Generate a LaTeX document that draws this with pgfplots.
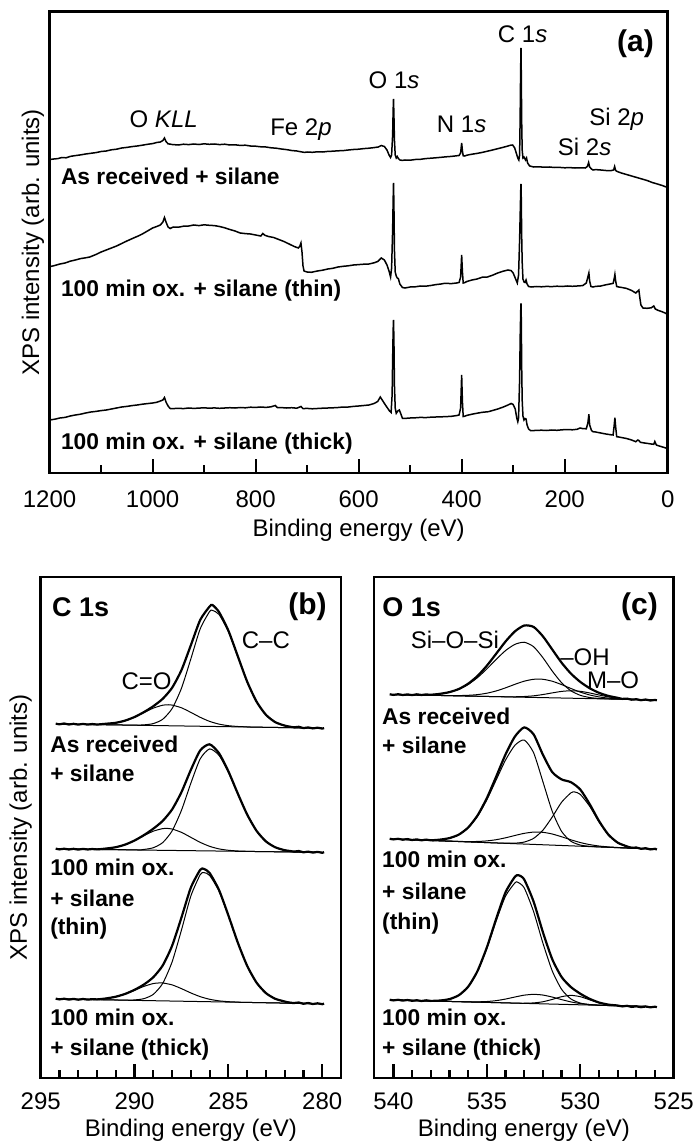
\documentclass[border=0pt]{standalone}
\usepackage{pgfplots}
\pgfplotsset{compat=1.18}
\usepackage{fontspec}
\setmainfont{Liberation Sans}
\newcommand{\fr}{\fontsize{12}{14}\selectfont}
\newcommand{\fb}{\fontsize{11.4}{13}\selectfont\bfseries}
\newcommand{\ft}{\fontsize{13.5}{15}\selectfont\bfseries}
\newcommand{\fl}{\fontsize{15}{17}\selectfont\bfseries}
\tikzset{lab/.style={inner sep=0pt}}
\pgfplotsset{
 base/.style={
   scale only axis, clip=false,
   axis line style={line width=1.3pt},
   tick style={line width=1.1pt, black},
   tick align=inside,
   xtick pos=bottom,
   ytick=\empty,
   x dir=reverse, y dir=reverse,
   major tick length=7pt, minor tick length=3.8pt,
   tick label style={font=\fr},
   label style={font=\fr},
   /pgf/number format/assume math mode=true,
   /pgf/number format/1000 sep={},
   every axis plot/.append style={black, no marks},
 },
 env/.style={line width=1.1pt, smooth, tension=0.4},
 comp/.style={line width=0.5pt, smooth, tension=0.4},
}
\begin{document}
\begin{tikzpicture}
\path[use as bounding box] (0pt,0pt) rectangle (348.5pt,574pt);
% ---------------- panel (a)
\begin{axis}[base, at={(179.325pt,452.825pt)}, anchor=center,
  width=309.05pt, height=230.65pt,
  xmin=0, xmax=1200, ymin=11.7, ymax=473,
  xtick={0,200,...,1200}, minor xtick={100,300,...,1100},
  xticklabel shift=5.2pt,
  xlabel={Binding energy (eV)}, ylabel={XPS intensity (arb. units)},
  xlabel style={at={(axis description cs:0.5,-0.1236)}, anchor=center},
  ylabel style={at={(axis description cs:-0.0269,0.5)}, anchor=center}]
\addplot[line width=0.75pt] coordinates {(1200,159.5)(1192,159)(1184,158.6)(1176,157.5)(1168,157.8)(1160,156.4)(1150,155.6)(1140,154.9)(1130,154)(1120,153.3)(1110,152.6)(1100,151.5)(1090,151)(1080,149.8)(1070,149.2)(1060,148)(1050,147.4)(1040,146.6)(1030,146)(1020,145.2)(1010,144.3)(1000,143.6)(992,142.5)(985,142)(980,140.5)(977,138)(974,141.5)(970,143.8)(962,144.5)(950,145)(940,144.2)(930,144.6)(920,144)(910,144.5)(900,143.8)(890,144.3)(880,144)(870,144.6)(860,144.2)(850,145)(840,144.8)(830,145.4)(820,145.2)(810,146)(800,146.2)(790,146.8)(780,147)(770,147.8)(760,148.2)(750,149)(740,149.6)(730,150.5)(720,151)(712,151.8)(705,152.4)(700,152)(690,152.3)(680,151.8)(670,152)(660,151.4)(650,151.2)(640,150.8)(630,150.6)(620,150)(610,149.5)(600,149.2)(590,148.6)(580,148.2)(570,147.6)(562,147)(556,145.5)(550,146.5)(545,150)(541,155)(538,157.5)(536,155)(534,135)(533,110)(532.3,99)(531.5,115)(530.5,140)(529,155)(527,158)(525,156.5)(523,158.5)(520,160)(515,160.4)(510,160)(500,160.2)(490,159.5)(480,159.3)(470,158.6)(460,158.2)(450,157.8)(440,157.3)(430,156.8)(420,156.4)(410,155.8)(405,155.5)(402,153)(400,143)(398.5,151)(397,155.8)(394,156)(390,155.2)(380,154.2)(370,153.4)(360,152.4)(350,151.2)(340,150)(330,148.7)(320,147.4)(310,146)(305,145.2)(301,145)(297,148)(294,153)(291,158)(289,160)(287.5,155)(286.5,120)(285.5,70)(284.8,48)(284.2,75)(283.5,120)(282.5,150)(281,158)(279,157)(276,160)(274,158)(272,163)(268,166)(260,167)(250,166.8)(240,167.2)(230,167)(220,167.5)(210,167.4)(200,167.8)(190,167.6)(180,168)(170,167.8)(160,168)(156,166.5)(153.5,162.5)(151.5,167)(148,169)(145,170)(140,169.6)(130,170)(120,170.5)(110,170.6)(105,170)(103,166.5)(101,170.5)(98,171.5)(90,173)(80,174.5)(70,176)(60,177.5)(50,179)(40,180.5)(30,182.5)(20,184)(10,185.6)(3,187)};
\addplot[line width=0.75pt] coordinates {(1200,266.7)(1190,265.5)(1180,264)(1170,263)(1160,261.2)(1150,260)(1140,258.6)(1130,257.8)(1122,257)(1110,254.5)(1100,252)(1090,250)(1080,248)(1070,246)(1060,243.5)(1050,241)(1037,238)(1028,236)(1020,234)(1010,231)(1000,228)(992,226.5)(985,225)(980,222)(977,217.5)(974,222)(970,227)(966,228.5)(960,227)(950,227.2)(940,226.2)(930,226)(920,225)(910,225.6)(900,224.8)(890,225.3)(880,225.6)(870,226.5)(860,227.8)(850,229.5)(840,231)(830,233)(820,233.6)(810,234)(800,235)(790,236)(786,233.5)(782,235.3)(775,236.5)(765,237.5)(755,239.5)(745,241.5)(735,244)(725,246.5)(717,248)(714,246)(712,243)(710,252)(708,266)(706,271)(700,272)(692,272.3)(680,271)(670,270.2)(660,269)(650,268.3)(640,267)(630,266.3)(620,265.8)(610,265)(600,264.6)(590,264.2)(580,264)(570,262.8)(563,261.5)(556,258)(550,260)(545,265)(541,271)(538,277)(536,268)(534,230)(533,200)(532.3,183)(531.5,205)(530.5,250)(529,272)(527,276)(525,278)(523,278.5)(520,284)(515,287.5)(510,288)(500,287)(490,286.8)(480,286)(470,286.2)(460,285.5)(450,284.6)(440,284)(433,283.3)(420,283.6)(410,283)(405,282.5)(402,277)(400,255)(398.5,272)(397,283)(394,282.6)(390,281.5)(380,280)(370,279)(360,277.2)(350,277)(340,275.2)(330,273)(320,271.3)(310,270)(304,270.6)(300,273)(296,278)(292,283)(289.5,275)(287.5,240)(286.2,210)(285.3,190)(284.8,184)(284.2,200)(283.5,235)(282.5,262)(281,279)(279,282)(277,282.5)(275,280)(273,284)(270,286.5)(265,287)(255,286.5)(245,286.8)(235,286.4)(225,286.6)(215,286.2)(205,286.5)(195,286)(185,286.3)(176,286)(165,285.6)(158,283)(155,277)(153,273)(151.5,281)(149,286.5)(145,287)(140,286.4)(130,286)(120,284.8)(112,284)(106,283.4)(104,279)(102.5,274.5)(101,281)(99,286.5)(95,287)(90,287.4)(80,288.4)(70,290.5)(62,293)(59,291.5)(56,290)(54,298)(52,305)(48,308)(40,308.3)(32,307.8)(27,306)(24,309)(18,310.5)(12,311.5)(5,313)(2,314)};
\addplot[line width=0.75pt] coordinates {(1200,420)(1190,419.2)(1180,418)(1170,417.4)(1160,416)(1150,415)(1140,414.2)(1130,413)(1120,412)(1110,411.4)(1100,410.6)(1090,410)(1080,409)(1070,408)(1060,407)(1050,406.4)(1040,405.6)(1030,405)(1020,404.2)(1010,403.6)(1000,403)(992,402.3)(985,401)(980,400)(977,397.5)(974,402)(970,406)(966,408.5)(960,408.6)(950,408.3)(940,408.6)(930,408)(920,408.4)(910,408.1)(900,407.8)(890,408.2)(880,407.9)(870,408.3)(860,408)(850,407.7)(840,408)(830,407.5)(820,407.8)(810,407.2)(800,407.4)(790,407)(780,407.4)(770,406.8)(762,405.5)(758,407.5)(750,407.6)(740,408)(730,407.7)(720,408.2)(712,406.5)(708,408.6)(700,408.4)(690,408.8)(680,408.5)(670,408.2)(660,408)(650,407.8)(640,407.5)(630,407)(620,407)(610,406.4)(600,406)(590,405.5)(580,405)(570,403.5)(563,401.5)(558,397)(553,401)(548,405)(544,408)(540,411)(537,412.5)(535,395)(534,360)(533,330)(532.3,320)(531.5,340)(530.5,385)(529,408)(527,413.3)(524,411)(521,410)(518,414)(515,418.3)(510,418.4)(500,418)(490,417.8)(480,417.4)(470,417.6)(460,417.2)(450,417)(440,416.8)(433,416.7)(420,416.3)(410,415.6)(405,415)(402,408)(400,375)(398.5,402)(397,416.5)(394,416.2)(390,415.4)(380,414.2)(370,413.2)(360,412.3)(348,411.7)(340,410.5)(330,409)(320,407.2)(310,405)(304,403.5)(300,404.5)(296,409)(293,418)(291,421.7)(289.5,418)(287.5,380)(286.3,335)(285.3,310)(284.8,303.3)(284.2,320)(283.5,365)(282.5,400)(281,416)(279,420)(277,418.5)(275,419)(273,425)(270,429)(266,430.7)(255,430.4)(245,430.2)(235,430.5)(225,430)(215,430.3)(205,429.8)(195,429.5)(185,429.8)(176,429.3)(170,428)(165,428.6)(158,428.8)(155,423)(153,414.3)(151.5,425)(148,430.5)(145,431.7)(140,432)(130,433)(120,434)(110,434.8)(106,435)(104,426)(102.5,417.7)(101,427)(99,436.7)(95,437)(90,437.5)(80,438.5)(70,440)(62,441.7)(58,440)(56,440.5)(53,442.3)(45,443)(38,443.5)(32,444)(27,444.3)(25,441.5)(22,445)(15,446.2)(8,447.3)(2,448.3)};
\node[lab, anchor=base, font=\fr] at (axis cs:978.5,127.2) {O \textit{KLL}};
\node[lab, anchor=base, font=\fr] at (axis cs:711.9,135.5) {Fe 2\textit{p}};
\node[lab, anchor=base, font=\fr] at (axis cs:531.2,88.9) {O 1\textit{s}};
\node[lab, anchor=base, font=\fr] at (axis cs:400,132.2) {N 1\textit{s}};
\node[lab, anchor=base, font=\fr] at (axis cs:281.7,42.2) {C 1\textit{s}};
\node[lab, anchor=base, font=\fr] at (axis cs:99,125.5) {Si 2\textit{p}};
\node[lab, anchor=base, font=\fr] at (axis cs:161.3,155.5) {Si 2\textit{s}};
\node[lab, anchor=base, font=\fl] at (axis cs:62.5,51) {(a)};
\node[lab, anchor=base west, font=\fb] at (axis cs:1178.6,184.6) {As received + silane};
\node[lab, anchor=base west, font=\fb] at (axis cs:1178.6,296.8) {100 min ox. + silane (thin)};
\node[lab, anchor=base west, font=\fb] at (axis cs:1178.6,449.9) {100 min ox. + silane (thick)};
\end{axis}
% ---------------- panel (b)
\begin{axis}[base, at={(95.425pt,160.25pt)}, anchor=center,
  width=150.15pt, height=250.5pt,
  xmin=279, xmax=295, ymin=577, ymax=1078,
  xtick={280,285,290,295}, minor xtick={281,282,283,284,286,287,288,289,291,292,293,294},
  xticklabel shift=3.7pt,
  xlabel={Binding energy (eV)}, ylabel={XPS intensity (arb. units)},
  xlabel style={at={(axis description cs:0.5,-0.1038)}, anchor=center},
  ylabel style={at={(axis description cs:-0.0663,0.5)}, anchor=center}]
\addplot[comp] coordinates {(294,724)(280,728.2)};
\addplot[comp] coordinates {(294,724)(291,724.9)(290,725.1)(289.5,724.86)(289,723.57)(288.5,719.27)(288,708.6)(287.5,688.25)(287,658.9)(286.5,628.8)(286,611.5)(285.85,610.4)(285.5,614.4)(285,631.6)(284.5,656.5)(284,681.7)(283.5,701.6)(283,714.8)(282.5,722.1)(282,725.6)(281.5,727.1)(281,727.71)(280.5,728.0)(280,728.2)};
\addplot[comp] coordinates {(294,724)(293,724.28)(292.5,724.36)(292,724.31)(291.5,723.91)(291,722.84)(290.5,720.66)(290,717.15)(289.5,712.61)(289,708.12)(288.5,705.2)(288.2,704.74)(288,705.05)(287.5,707.79)(287,712.38)(286.5,717.32)(286,721.39)(285.5,724.12)(285,725.69)(284.5,726.48)(284,726.9)(283.5,727.15)(283,727.3)(280,728.2)};
\addplot[env] coordinates {(294.2,723.6)(294,724.3)(293.75,723.5)(293.5,724.5)(293.25,723.8)(293,724.6)(292.75,723.9)(292.5,724.6)(292.25,724.0)(292,724.5)(291.5,723.7)(291,722.8)(290.5,720.6)(290,717.0)(289.5,712.1)(289,706.2)(288.5,698.8)(288,687.8)(287.5,670.1)(287,645.2)(286.5,619.9)(286,606.5)(285.85,605)(285.5,612)(285,630.6)(284.5,656.1)(284,681.6)(283.5,701.6)(283,714.8)(282.5,722.2)(282,725.6)(281.75,726.6)(281.5,727.3)(281.25,726.8)(281,728.1)(280.75,727.4)(280.5,728.4)(280.25,727.7)(280,728.6)(279.9,728.1)};
\addplot[comp] coordinates {(294,849)(280,852.36)};
\addplot[comp] coordinates {(294,849)(290,849.82)(289.5,849.43)(289,847.72)(288.5,842.61)(288,830.91)(287.5,810.31)(287,783.21)(286.5,758.81)(286,748.92)(285.5,755.34)(285,772.16)(284.5,793.83)(284,814.63)(283.5,830.82)(283,841.37)(282.5,847.28)(282,850.16)(281.5,851.42)(281,851.95)(280.5,852.19)(280,852.36)};
\addplot[comp] coordinates {(294,849)(293,849.21)(292.5,849.24)(292,849.1)(291.5,848.54)(291,847.17)(290.5,844.58)(290,840.6)(289.5,835.71)(289,831.17)(288.5,828.58)(288.3,828.37)(288,829.02)(287.5,832.35)(287,837.34)(286.5,842.37)(286,846.32)(285.5,848.88)(285,850.28)(284.5,850.97)(284,851.3)(283.5,851.52)(280,852.36)};
\addplot[env] coordinates {(294.2,848.6)(294,849.4)(293.75,848.7)(293.5,849.5)(293.25,848.8)(293,849.6)(292.75,848.9)(292.5,849.5)(292.25,849.0)(292,849.4)(291.5,848.5)(291,847.2)(290.5,844.6)(290,840.5)(289.5,835.1)(289,828.7)(288.5,820.9)(288,809.5)(287.5,792.1)(287,769.9)(286.5,750.4)(286,744.3)(285.5,753.2)(285,771.3)(284.5,793.5)(284,814.5)(283.5,830.8)(283,841.4)(282.5,847.3)(282,850.2)(281.75,850.9)(281.5,851.6)(281.25,851.0)(281,852.3)(280.75,851.6)(280.5,852.6)(280.25,851.9)(280,852.8)(279.9,852.2)};
\addplot[comp] coordinates {(294,999)(280,1003.76)};
\addplot[comp] coordinates {(294,999)(290.5,1000.1)(290,999.91)(289.5,998.65)(289,994.35)(288.5,983.41)(288,961.95)(287.5,930.05)(287,896.03)(286.5,874.65)(286.3,872.6)(286,875.42)(285.5,891.09)(285,915.76)(284.5,942.58)(284,965.8)(283.5,982.63)(283,993.09)(282.5,998.77)(282,1001.5)(281.5,1002.72)(281,1003.26)(280.5,1003.55)(280,1003.76)};
\addplot[comp] coordinates {(294,999)(293,999.28)(292.5,999.31)(292,999.09)(291.5,998.36)(291,996.74)(290.5,994.0)(290,990.28)(289.5,986.37)(289,983.53)(288.6,982.84)(288.5,982.92)(288,984.86)(287.5,988.63)(287,992.94)(286.5,996.66)(286,999.28)(285.5,1000.84)(285,1001.67)(284.5,1002.11)(284,1002.4)(280,1003.76)};
\addplot[env] coordinates {(294.2,998.6)(294,999.4)(293.75,998.7)(293.5,999.6)(293.25,998.9)(293,999.7)(292.75,999.0)(292.5,999.6)(292.25,999.1)(292,999.4)(291.5,998.4)(291,996.7)(290.5,993.9)(290,989.8)(289.5,984.5)(289,977.2)(288.5,965.5)(288,945.8)(287.5,917.5)(287,887.6)(286.5,869.8)(286.3,868.9)(286,873.0)(285.5,890.0)(285,915.4)(284.5,942.5)(284,965.8)(283.5,982.6)(283,993.1)(282.5,998.8)(282,1001.5)(281.75,1002.6)(281.5,1003.0)(281.25,1002.5)(281,1003.8)(280.75,1003.0)(280.5,1004.0)(280.25,1003.3)(280,1004.2)(279.9,1003.6)};
\node[lab, anchor=base west, font=\ft] at (axis cs:294.41,616.4) {C 1s};
\node[lab, anchor=base east, font=\fl] at (axis cs:279.74,614.5) {(b)};
\node[lab, anchor=base, font=\fr] at (axis cs:289.36,689.2) {C=O};
\node[lab, anchor=base, font=\fr] at (axis cs:283.0,648.6) {C–C};
\node[lab, anchor=base west, font=\fb] at (axis cs:294.51,752.8) {As received};
\node[lab, anchor=base west, font=\fb] at (axis cs:294.51,781.4) {+ silane};
\node[lab, anchor=base west, font=\fb] at (axis cs:294.51,875.7) {100 min ox.};
\node[lab, anchor=base west, font=\fb] at (axis cs:294.51,906) {+ silane};
\node[lab, anchor=base west, font=\fb] at (axis cs:294.51,934.6) {(thin)};
\node[lab, anchor=base west, font=\fb] at (axis cs:294.51,1025.5) {100 min ox.};
\node[lab, anchor=base west, font=\fb] at (axis cs:294.51,1055.2) {+ silane (thick)};
\end{axis}
% ---------------- panel (c)
\begin{axis}[base, at={(261.925pt,160.25pt)}, anchor=center,
  width=149.85pt, height=250.5pt,
  xmin=525, xmax=541.04, ymin=577, ymax=1078,
  xtick={525,530,535,540}, minor xtick={526,527,528,529,531,532,533,534,536,537,538,539},
  xticklabel shift=3.7pt,
  xlabel={Binding energy (eV)},
  xlabel style={at={(axis description cs:0.5,-0.1038)}, anchor=center}]
\addplot[comp] coordinates {(540,694.5)(526,699.96)};
\addplot[comp] coordinates {(540,694.49)(539,694.78)(538.5,694.8)(538,694.55)(537.5,693.82)(537,692.22)(536.5,689.27)(536,684.47)(535.5,677.61)(535,668.92)(534.5,659.38)(534,650.58)(533.5,644.37)(533,642.23)(532.5,646.66)(532,657.68)(531.5,671.05)(531,682.72)(530.5,690.77)(530,695.31)(529.5,697.51)(529,698.46)(528.5,698.91)(528,699.16)(527,699.57)(526,699.96)};
\addplot[comp] coordinates {(540,694.5)(538,695.27)(537.5,695.44)(537,695.56)(536.5,695.57)(536,695.31)(535.5,694.62)(535,693.21)(534.5,690.94)(534,687.84)(533.5,684.33)(533,681.18)(532.5,679.3)(532,679.28)(531.5,681.22)(531,684.58)(530.5,688.48)(530,692.09)(529.5,694.94)(529,696.89)(528.5,698.11)(528,698.81)(527.5,699.24)(527,699.52)(526,699.96)};
\addplot[comp] coordinates {(540,694.5)(535,696.45)(534.5,696.63)(534,696.76)(533.5,696.77)(533,696.51)(532.5,695.81)(532,694.54)(531.5,692.89)(531,691.39)(530.5,690.74)(530,691.3)(529.5,692.94)(529,694.99)(528.5,696.85)(528,698.17)(527.5,698.98)(527,699.43)(526.5,699.73)(526,699.96)};
\addplot[env] coordinates {(540.2,694.2)(540,694.9)(539.75,694.2)(539.5,695.0)(539.25,694.4)(539,695.1)(538.75,694.3)(538.5,695.0)(538.25,694.4)(538,694.8)(537.5,693.8)(537,692.1)(536.5,689.0)(536,683.7)(535.5,676.0)(535,665.7)(534.5,653.7)(534,641.5)(533.5,631.4)(533,625.5)(532.5,626.9)(532,636.3)(531.5,649.5)(531,662.7)(530.5,673.6)(530,681.9)(529.5,688.2)(529,692.8)(528.5,695.9)(528,697.8)(527.75,698.9)(527.5,698.6)(527.25,699.7)(527,699.2)(526.75,700.2)(526.5,699.5)(526.25,700.5)(526,699.9)(525.9,700.4)};
\addplot[comp] coordinates {(540,839)(526,849.08)};
\addplot[comp] coordinates {(540,839)(539,839.69)(538.5,839.95)(538,840.04)(537.5,839.64)(537,838.19)(536.5,834.68)(536,827.81)(535.5,816.3)(535,799.84)(534.5,779.88)(534,760.05)(533.5,745.3)(533,740.04)(532.5,752.62)(532,781.68)(531.5,811.35)(531,831.41)(530.5,841.27)(530,845.04)(529.5,846.33)(529,846.89)(528.5,847.28)(526,849.08)};
\addplot[comp] coordinates {(540,839)(538,840.44)(537.5,840.79)(537,841.13)(536.5,841.41)(536,841.56)(535.5,841.46)(535,840.9)(534.5,839.69)(534,837.81)(533.5,835.49)(533,833.34)(532.5,832.09)(532,832.29)(531.5,834.0)(531,836.75)(530.5,839.81)(530,842.53)(529.5,844.6)(529,846.0)(528.5,846.9)(528,847.5)(527.5,847.95)(527,848.34)(526,849.08)};
\addplot[comp] coordinates {(540,839)(535,842.6)(534.5,842.94)(534,843.21)(533.5,843.16)(533,842.06)(532.5,838.39)(532,830.2)(531.5,817.01)(531,802.24)(530.5,792.81)(530.3,791.98)(530,794.36)(529.5,806.17)(529,821.82)(528.5,834.86)(528,842.74)(527.5,846.46)(527,847.97)(526.5,848.64)(526,849.08)};
\addplot[env] coordinates {(540.2,838.7)(540,839.4)(539.75,838.8)(539.5,839.7)(539.25,839.1)(539,840.0)(538.75,839.4)(538.5,840.3)(538.25,839.6)(538,840.3)(537.5,839.6)(537,838.1)(536.5,834.6)(536,827.5)(535.5,815.5)(535,798.1)(534.5,776.6)(534,754.4)(533.5,736.6)(533,727.4)(532.5,734.3)(532,754.7)(531.5,772.1)(531,779.4)(530.5,782.2)(530,789.5)(529.5,804.0)(529,820.9)(528.5,834.5)(528,842.6)(527.5,846.4)(527.25,847.8)(527,847.5)(526.75,848.8)(526.5,848.2)(526.25,849.4)(526,848.8)(525.9,849.5)};
\addplot[comp] coordinates {(540,1000)(526,1006.72)};
\addplot[comp] coordinates {(540,1000)(538.5,1000.67)(538,1000.76)(537.5,1000.46)(537,999.09)(536.5,995.25)(536,986.77)(535.5,971.34)(535,948.33)(534.5,920.84)(534,896.1)(533.5,882.92)(533.35,882.19)(533,887.86)(532.5,911.5)(532,943.1)(531.5,970.9)(531,989.32)(530.5,998.94)(530,1003.06)(529.5,1004.59)(529,1005.18)(528.5,1005.52)(526,1006.72)};
\addplot[comp] coordinates {(540,1000)(537,1001.44)(536.5,1001.65)(536,1001.82)(535.5,1001.83)(535,1001.51)(534.5,1000.63)(534,999.06)(533.5,997.01)(533,995.15)(532.5,994.33)(532,995.04)(531.5,997.06)(531,999.61)(530.5,1001.9)(530,1003.54)(529.5,1004.54)(529,1005.11)(528.5,1005.47)(528,1005.76)(526,1006.72)};
\addplot[comp] coordinates {(540,1000)(533.5,1003.09)(533,1003.19)(532.5,1002.91)(532,1001.75)(531.5,999.42)(531,996.69)(530.5,995.37)(530,996.68)(529.5,999.77)(529,1002.77)(528.5,1004.64)(528,1005.53)(527.5,1005.95)(527,1006.24)(526,1006.72)};
\addplot[env] coordinates {(540.2,999.7)(540,1000.4)(539.75,999.8)(539.5,1000.6)(539.25,1000.0)(539,1000.8)(538.75,1000.2)(538.5,1001.0)(538.25,1000.3)(538,1000.9)(537.5,1000.5)(537,999.1)(536.5,995.2)(536,986.7)(535.5,971.0)(535,947.4)(534.5,918.8)(534,892.3)(533.5,876.8)(533.3,875.2)(533,879.5)(532.5,901.5)(532,932.2)(531.5,959.2)(531,977.0)(530.5,987.1)(530,993.7)(529.5,998.8)(529,1002.5)(528.5,1004.6)(528,1005.5)(527.75,1006.4)(527.5,1005.8)(527.25,1006.9)(527,1006.3)(526.75,1007.2)(526.5,1006.5)(526.25,1007.3)(526,1006.7)(525.9,1007.2)};
\node[lab, anchor=base west, font=\ft] at (axis cs:540.61,616.4) {O 1s};
\node[lab, anchor=base east, font=\fl] at (axis cs:525.83,614.5) {(c)};
\node[lab, anchor=base, font=\fr] at (axis cs:536.71,648.6) {Si–O–Si};
\node[lab, anchor=base, font=\fr] at (axis cs:529.75,665.3) {–OH};
\node[lab, anchor=base, font=\fr] at (axis cs:528.24,688.6) {M–O};
\node[lab, anchor=base west, font=\fb] at (axis cs:540.62,724.2) {As received};
\node[lab, anchor=base west, font=\fb] at (axis cs:540.62,753.5) {+ silane};
\node[lab, anchor=base west, font=\fb] at (axis cs:540.62,867.9) {100 min ox.};
\node[lab, anchor=base west, font=\fb] at (axis cs:540.62,899.2) {+ silane};
\node[lab, anchor=base west, font=\fb] at (axis cs:540.62,929.5) {(thin)};
\node[lab, anchor=base west, font=\fb] at (axis cs:540.62,1025.5) {100 min ox.};
\node[lab, anchor=base west, font=\fb] at (axis cs:540.62,1055.2) {+ silane (thick)};
\end{axis}
\end{tikzpicture}
\end{document}
